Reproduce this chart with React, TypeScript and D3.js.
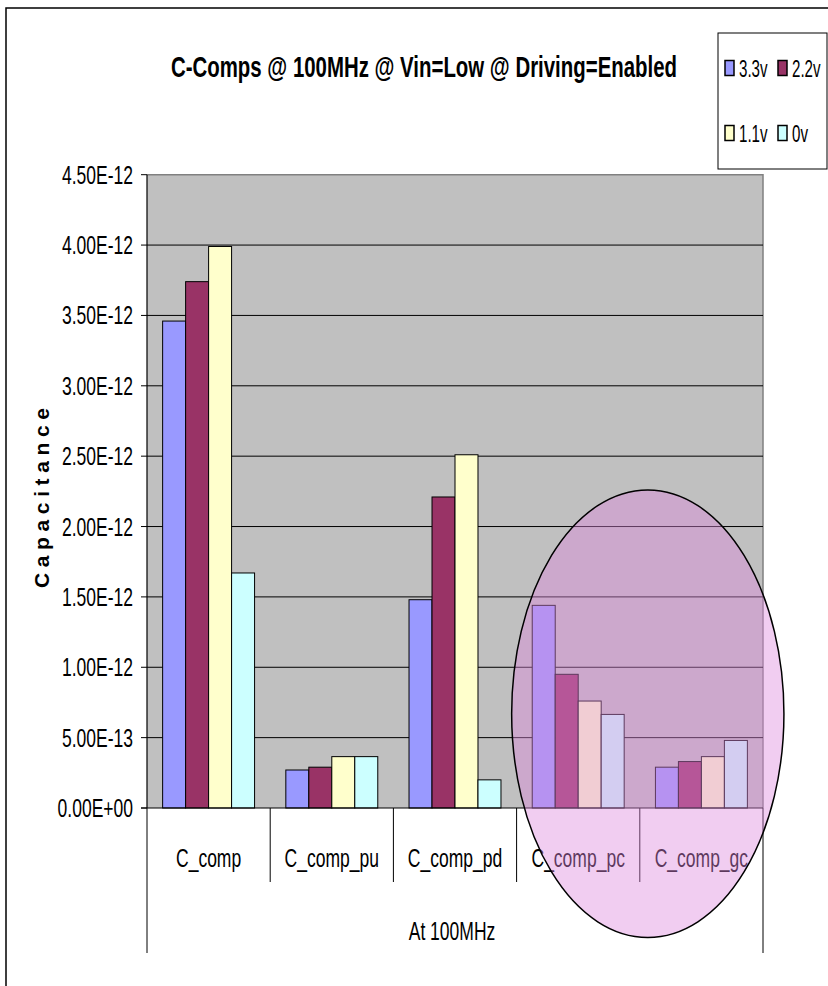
import React from 'react'
import * as d3 from 'd3'

const categories = ['C_comp', 'C_comp_pu', 'C_comp_pd', 'C_comp_pc', 'C_comp_gc']
const seriesNames = ['3.3v', '2.2v', '1.1v', '0v']
const seriesColors = ['#9999ff', '#993366', '#ffffcc', '#ccffff']

// capacitance in pF (x 1e-12), one array per series, indexed by category
const v33 = [3.46, 0.27, 1.48, 1.44, 0.29]
const v22 = [3.74, 0.29, 2.21, 0.95, 0.33]
const v11 = [3.99, 0.365, 2.51, 0.76, 0.365]
const v0 = [1.67, 0.365, 0.2, 0.665, 0.48]
const seriesValues = [v33, v22, v11, v0]

const yTicks = [0, 0.5, 1, 1.5, 2, 2.5, 3, 3.5, 4, 4.5]

const W = 828
const H = 986
const FONT = '"Liberation Sans", Arial, sans-serif'

const fmtE = (v: number) => {
  const [m, e] = (v * 1e-12).toExponential(2).split('e')
  const sign = e[0] === '-' ? '-' : '+'
  const digits = e.replace(/[+-]/, '').padStart(2, '0')
  return `${m}E${sign}${digits}`
}

let ctx: CanvasRenderingContext2D | null = null
const measure = (str: string, size: number, weight: string) => {
  if (!ctx) ctx = document.createElement('canvas').getContext('2d')
  if (!ctx) return str.length * size * 0.55
  ctx.font = `${weight} ${size}px ${FONT}`
  return ctx.measureText(str).width
}

// narrow text: Excel's condensed Arial look, squeezed with textLength
const NText = ({ x, y, anchor = 'start', size = 25, sx = 0.7, children, weight = 'normal' }: any) => (
  <text
    x={x}
    y={y}
    textAnchor={anchor}
    fontSize={size}
    fontWeight={weight}
    fontFamily={FONT}
    fill="#000"
    textLength={measure(String(children), size, weight) * sx}
    lengthAdjust="spacingAndGlyphs"
  >
    {children}
  </text>
)

export default function App() {
  const left = 147
  const right = 763
  const top = 174.7
  const bottom = 808

  const x = d3.scaleBand().domain(categories).range([left, right]).padding(0)
  const xs = d3
    .scaleBand()
    .domain(seriesNames)
    .range([0, x.bandwidth()])
    .paddingInner(0)
    .paddingOuter(0.68)
  const y = d3.scaleLinear().domain([0, 4.5]).range([bottom, top])

  // highlight ellipse around the last two groups
  const ellCx = (x('C_comp_gc') as number) + 8
  const ellTop = y(2.26)
  const ellBot = y(-0.92)
  const ellRx = x.bandwidth() * 1.105

  return (
    <svg
      width={W}
      height={H}
      style={{ position: 'absolute', left: 0, top: 0, background: '#fff' }}
    >
      {/* outer chart frame */}
      <rect x={6} y={8} width={W + 20} height={H + 20} fill="#fff" stroke="#000" strokeWidth={1.5} />

      {/* title */}
      <NText x={424} y={77} anchor="middle" size={30} weight="bold" sx={506 / measure('C-Comps @ 100MHz @ Vin=Low @ Driving=Enabled', 30, 'bold')}>
        C-Comps @ 100MHz @ Vin=Low @ Driving=Enabled
      </NText>

      {/* plot area */}
      <rect x={left} y={top} width={right - left} height={bottom - top} fill="#c0c0c0" />
      <path d={`M${left},${top}H${right}V${bottom}`} fill="none" stroke="#808080" strokeWidth={1.5} />

      {/* gridlines */}
      {yTicks.slice(1, -1).map(t => (
        <line key={t} x1={left} x2={right} y1={y(t)} y2={y(t)} stroke="#000" strokeWidth={1} />
      ))}

      {/* bars */}
      {categories.map((c, ci) => (
        <g key={c} transform={`translate(${x(c)},0)`}>
          {seriesNames.map((s, si) => {
            const v = seriesValues[si][ci]
            return (
              <rect
                key={s}
                x={xs(s)}
                y={y(v)}
                width={xs.bandwidth()}
                height={y(0) - y(v)}
                fill={seriesColors[si]}
                stroke="#000"
                strokeWidth={1}
              />
            )
          })}
        </g>
      ))}

      {/* value axis */}
      <line x1={left} x2={left} y1={top} y2={bottom} stroke="#000" strokeWidth={1.2} />
      {yTicks.map(t => (
        <g key={t}>
          <line x1={left - 6} x2={left} y1={y(t)} y2={y(t)} stroke="#000" strokeWidth={1} />
          <NText x={133} y={y(t) + 9} anchor="end">
            {fmtE(t)}
          </NText>
        </g>
      ))}

      {/* value axis title */}
      <text
        transform={`translate(49,498) rotate(-90)`}
        textAnchor="middle"
        fontSize={21}
        fontWeight="bold"
        fontFamily={FONT}
        textLength={180}
        lengthAdjust="spacing"
      >
        Capacitance
      </text>

      {/* category axis */}
      <line x1={left - 6} x2={right} y1={bottom} y2={bottom} stroke="#000" strokeWidth={1.2} />
      {categories.map((c, i) => (
        <line
          key={c}
          x1={x(c)}
          x2={x(c)}
          y1={bottom}
          y2={i === 0 ? 953 : 882}
          stroke="#000"
          strokeWidth={1}
        />
      ))}
      <line x1={right} x2={right} y1={bottom} y2={953} stroke="#000" strokeWidth={1} />
      {categories.map(c => (
        <NText key={c} x={(x(c) as number) + x.bandwidth() / 2} y={867} anchor="middle">
          {c}
        </NText>
      ))}
      <NText x={(left + right) / 2 - 3} y={940} anchor="middle">
        At 100MHz
      </NText>

      {/* legend */}
      <rect x={718} y={33} width={109} height={136} fill="#fff" stroke="#000" strokeWidth={1} />
      {seriesNames.map((s, i) => {
        const col = i % 2
        const row = Math.floor(i / 2)
        const lx = 725 + col * 53
        const ly = 68 + row * 65
        return (
          <g key={s}>
            <rect x={lx} y={ly - 7.5} width={9} height={15} fill={seriesColors[i]} stroke="#000" strokeWidth={1.5} />
            <NText x={lx + 14} y={ly + 8.5} size={24} sx={0.63}>
              {s}
            </NText>
          </g>
        )
      })}

      {/* highlight ellipse */}
      <ellipse
        cx={ellCx}
        cy={(ellTop + ellBot) / 2}
        rx={ellRx}
        ry={(ellBot - ellTop) / 2}
        fill="#dd88dd"
        fillOpacity={0.42}
        stroke="#000"
        strokeWidth={1.5}
      />
    </svg>
  )
}
